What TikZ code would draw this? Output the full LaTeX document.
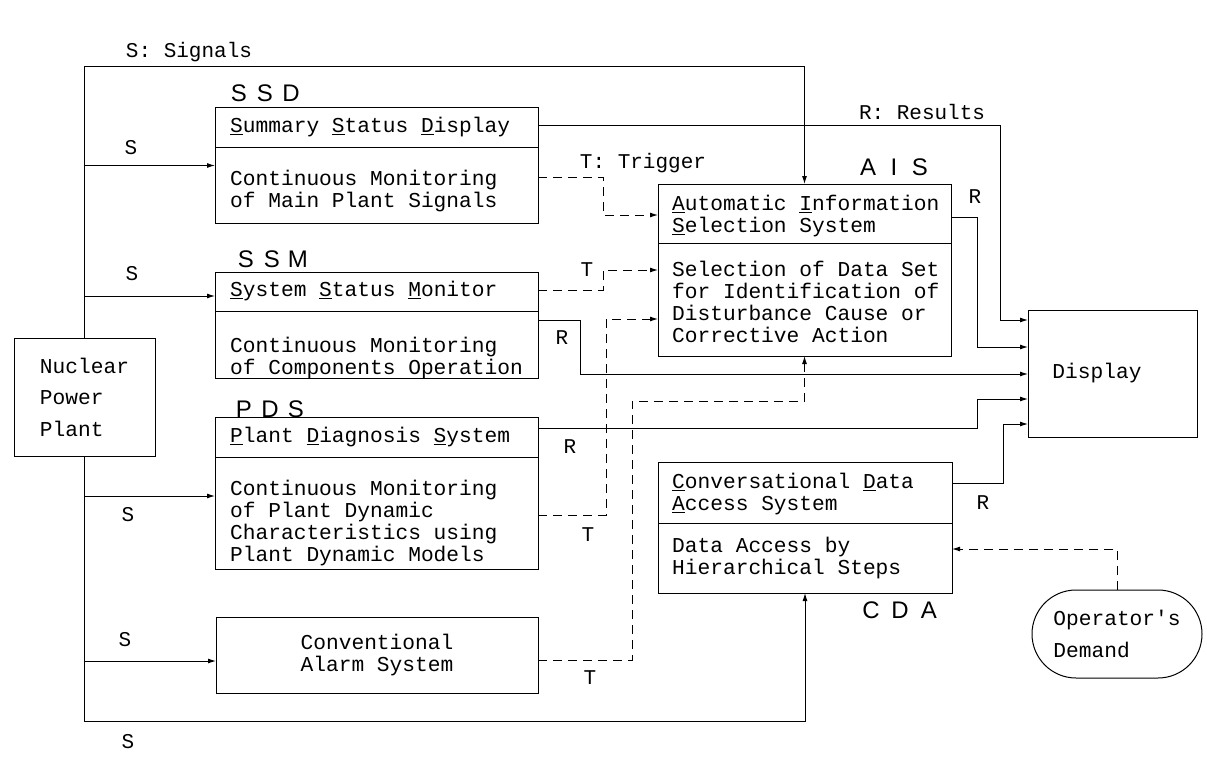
\documentclass[tikz,border=0pt]{standalone}
\usepackage{fontspec}
\newfontfamily\mono{Liberation Mono}
\newfontfamily\labfont{Liberation Sans}
\usetikzlibrary{arrows.meta}
\newcommand{\tagtext}[3]{\makebox[26pt]{#1}\makebox[26pt]{#2}\makebox[26pt]{#3}}
\begin{document}
\begin{tikzpicture}[x=1pt,y=-1pt,
  box/.style={draw, line width=1pt, inner sep=0pt, outer sep=0pt, anchor=north west},
  txt/.style={font=\mono\fontsize{21.2}{22}\selectfont, align=left, inner sep=0pt, anchor=west},
  lbl/.style={font=\mono\fontsize{21}{22}\selectfont, inner sep=0pt},
  tagl/.style={font=\labfont\fontsize{24}{26}\selectfont, inner sep=0pt},
  conn/.style={line width=1pt},
  trig/.style={line width=1pt, dash pattern=on 9pt off 6pt},
  arr/.style={-{Latex[length=8pt,width=5pt]}}
]
\useasboundingbox (0,0) rectangle (1207,765);

% boxes
\node[box, minimum width=141pt, minimum height=118pt, align=left,
      font=\mono\fontsize{21.2}{31.5}\selectfont] (npp) at (14,338) {Nuclear\\Power\\Plant};
\node[box, minimum width=323pt, minimum height=115pt] (ssd) at (215,108) {};
\node[box, minimum width=323pt, minimum height=106pt] (ssm) at (215,272) {};
\node[box, minimum width=323pt, minimum height=152pt] (pds) at (215,417) {};
\node[box, minimum width=322pt, minimum height=76pt, align=center,
      font=\mono\fontsize{21.2}{22}\selectfont] (alarm) at (216,617) {Conventional\\Alarm System};
\node[box, minimum width=293pt, minimum height=172pt] (ais) at (658,184) {};
\node[box, minimum width=294pt, minimum height=131pt] (cda) at (658,462) {};
\node[box, minimum width=169pt, minimum height=127pt] (display) at (1028,310) {};
\node[box, minimum width=170pt, minimum height=88pt, rounded corners=44pt, align=left,
      font=\mono\fontsize{21.2}{32}\selectfont] (opd) at (1032,590) {Operator's\\Demand};

% dividers
\draw[conn] (ssd.west |- 0,148) -- (ssd.east |- 0,148);
\draw[conn] (ssm.west |- 0,311) -- (ssm.east |- 0,311);
\draw[conn] (pds.west |- 0,457) -- (pds.east |- 0,457);
\draw[conn] (ais.west |- 0,243) -- (ais.east |- 0,243);
\draw[conn] (cda.west |- 0,523) -- (cda.east |- 0,523);

% box texts
\node[txt] (ssdt) at (230,127) {\underline{S}ummary \underline{S}tatus \underline{D}isplay};
\node[txt] (ssdb) at (230,191) {Continuous Monitoring\\of Main Plant Signals};
\node[txt] (ssmt) at (230,291) {\underline{S}ystem \underline{S}tatus \underline{M}onitor};
\node[txt] (ssmb) at (230,358) {Continuous Monitoring\\of Components Operation};
\node[txt] (pdst) at (230,437) {\underline{P}lant \underline{D}iagnosis \underline{S}ystem};
\node[txt] (pdsb) at (230,523) {Continuous Monitoring\\of Plant Dynamic\\Characteristics using\\Plant Dynamic Models};
\node[txt] (aist) at (672,216) {\underline{A}utomatic \underline{I}nformation\\\underline{S}election System};
\node[txt] (aisb) at (672,302) {Selection of Data Set\\for Identification of\\Disturbance Cause or\\Corrective Action};
\node[txt] (cdat) at (672,494) {\underline{C}onversational \underline{D}ata\\\underline{A}ccess System};
\node[txt] (cdab) at (672,558) {Data Access by\\Hierarchical Steps};
\node[txt, anchor=center] (dispt) at (1097,373) {Display};

% tags
\node[tagl] (tssd) at (265,93) {\tagtext{S}{S}{D}};
\node[tagl] (tssm) at (272,259) {\tagtext{S}{S}{M}};
\node[tagl] (tpds) at (270,409) {\tagtext{P}{D}{S}};
\node[tagl] (tais) at (894,167) {\tagtext{A}{I}{S}};
\node[tagl] (tcda) at (900,610) {\makebox[29pt]{C}\makebox[29pt]{D}\makebox[29pt]{A}};

% signal lines
\draw[conn, arr] (npp.north) -- (npp.north |- 0,67) -| (ais.north);
\draw[conn, arr] (npp.north |- ssd.west) -- (ssd.west);
\draw[conn, arr] (npp.north |- 0,296) -- (ssm.west |- 0,296);
\draw[conn, arr] (npp.south |- 0,496) -- (pds.west |- 0,496);
\draw[conn, arr] (npp.south |- 0,661) -- (alarm.west |- 0,661);
\draw[conn, arr] (npp.south) -- (npp.south |- 0,721) -| (cda.south);

% results lines
\draw[conn, arr] (ssd.east |- 0,126) -- (1000,126) -- (1000,320) -- (display.west |- 0,320);
\draw[conn, arr] (ais.east |- 0,217) -- (977,217) -- (977,347) -- (display.west |- 0,347);
\draw[conn, arr] (ssm.east |- 0,320) -- (580,320) -- (580,374) -- (display.west |- 0,374);
\draw[conn, arr] (pds.east |- 0,428) -- (977,428) -- (977,399) -- (display.west |- 0,399);
\draw[conn, arr] (cda.east |- 0,483) -- (1003,483) -- (1003,424) -- (display.west |- 0,424);

% trigger lines
\draw[trig, arr] (ssd.east |- 0,177) -- (603,177) -- (603,215) -- (ais.west |- 0,215);
\draw[trig, arr] (ssm.east |- 0,290) -- (603,290) -- (603,270) -- (ais.west |- 0,270);
\draw[trig, arr] (pds.east |- 0,515) -- (606,515) -- (606,319) -- (ais.west |- 0,319);
\draw[trig, arr] (alarm.east |- 0,660) -- (632,660) -- (632,401) -- (ais.south |- 0,401) -- (ais.south);
\draw[trig, arr] (opd.north) -- (opd.north |- 0,549) -- (cda.east |- 0,549);

% labels
\node[lbl] (lsig) at (189,52) {S: Signals};
\node[lbl] (ls1) at (131,148) {S};
\node[lbl] (ls2) at (132,274) {S};
\node[lbl] (ls3) at (128,515) {S};
\node[lbl] (ls4) at (125,640) {S};
\node[lbl] (ls5) at (128,742) {S};
\node[lbl] (lres) at (922,112) {R: Results};
\node[lbl] (ltrig) at (643,163) {T: Trigger};
\node[lbl] (lt1) at (587,270) {T};
\node[lbl] (lr1) at (562,338) {R};
\node[lbl] (lr2) at (570,447) {R};
\node[lbl] (lt2) at (588,535) {T};
\node[lbl] (lt3) at (590,678) {T};
\node[lbl] (lr3) at (975,197) {R};
\node[lbl] (lr4) at (983,503) {R};
\end{tikzpicture}
\end{document}
